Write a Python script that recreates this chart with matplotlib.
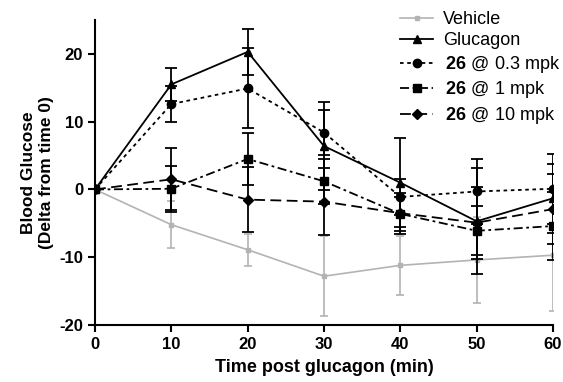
import numpy as np
import matplotlib
matplotlib.use("Agg")
import matplotlib.pyplot as plt
from matplotlib.lines import Line2D

plt.rcParams['font.family'] = ['Liberation Sans', 'DejaVu Sans']
plt.rcParams['mathtext.fontset'] = 'custom'
plt.rcParams['mathtext.bf'] = 'Liberation Sans:bold'
plt.rcParams['mathtext.rm'] = 'Liberation Sans'
plt.rcParams['axes.unicode_minus'] = False

# データ
time_min = [0, 10, 20, 30, 40, 50, 60]

vehicle = [0, -5.2, -8.9, -12.8, -11.2, -10.4, -9.7]
vehicle_err = [0, 3.5, 2.4, 5.9, 4.4, 6.3, 8.2]

glucagon = [0, 15.5, 20.3, 6.4, 1.0, -4.7, -1.3]
glucagon_err = [0, 2.4, 3.4, 6.5, 6.6, 7.8, 5.1]

c26_03 = [0, 12.6, 14.9, 8.4, -1.1, -0.3, 0.1]
c26_03_err = [0, 2.6, 5.9, 3.3, 2.7, 4.8, 5.2]

c26_1 = [0, 0.1, 4.5, 1.2, -3.6, -6.1, -5.4]
c26_1_err = [0, 3.4, 3.9, 3.3, 2.5, 3.6, 5.0]

c26_10 = [0, 1.5, -1.5, -1.8, -3.5, -4.9, -2.9]
c26_10_err = [0, 4.6, 4.8, 4.9, 3.0, 5.3, 5.2]

labels = ["Vehicle", "Glucagon", r"$\,\mathbf{26}$ @ 0.3 mpk",
          r"$\,\mathbf{26}$ @ 1 mpk", r"$\,\mathbf{26}$ @ 10 mpk"]

fig = plt.figure(figsize=(5.63, 3.82), dpi=100)
ax = fig.add_axes([95 / 563, 57 / 382, 458 / 563, 305 / 382])

gray = '#b3b3b3'
styles = [
    dict(color=gray, marker='s', ms=3, lw=1.2, ls='-'),
    dict(color='black', marker='^', ms=6, lw=1.3, ls='-'),
    dict(color='black', marker='o', ms=6, lw=1.3, dashes=(2, 2)),
    dict(color='black', marker='s', ms=6, lw=1.3, dashes=(5, 2, 1.5, 2)),
    dict(color='black', marker='D', ms=5, lw=1.3, dashes=(6, 3)),
]
series = [(vehicle, vehicle_err), (glucagon, glucagon_err), (c26_03, c26_03_err),
          (c26_1, c26_1_err), (c26_10, c26_10_err)]

handles = []
for (y, e), st, lab in zip(series, styles, labels):
    z = 2 if st['color'] == gray else 3
    ax.errorbar(time_min, y, yerr=e, capsize=4 if z == 3 else 3,
                elinewidth=st['lw'], capthick=st['lw'], zorder=z, **st)
    handles.append(Line2D([], [], **st))

ax.set_xlim(0, 60)
ax.set_ylim(-20, 25)
ax.set_xticks(range(0, 61, 10))
ax.set_yticks([-20, -10, 0, 10, 20])
for s in ['top', 'right']:
    ax.spines[s].set_visible(False)
for s in ['left', 'bottom']:
    ax.spines[s].set_linewidth(1.5)
ax.tick_params(width=1.5, length=5, labelsize=12)
for t in ax.get_xticklabels() + ax.get_yticklabels():
    t.set_fontweight('bold')

ax.set_xlabel("Time post glucagon (min)", fontsize=13, fontweight='bold', labelpad=5)
ax.set_ylabel("Blood Glucose\n(Delta from time 0)", fontsize=12.5, fontweight='bold',
              labelpad=4)

ax.legend(handles, labels, loc='upper left', bbox_to_anchor=(0.666, 1.03),
          frameon=False, fontsize=13, handlelength=1.85, handletextpad=0.55,
          labelspacing=0.25, borderpad=0, borderaxespad=0)

fig.savefig("out.png", dpi=100)
